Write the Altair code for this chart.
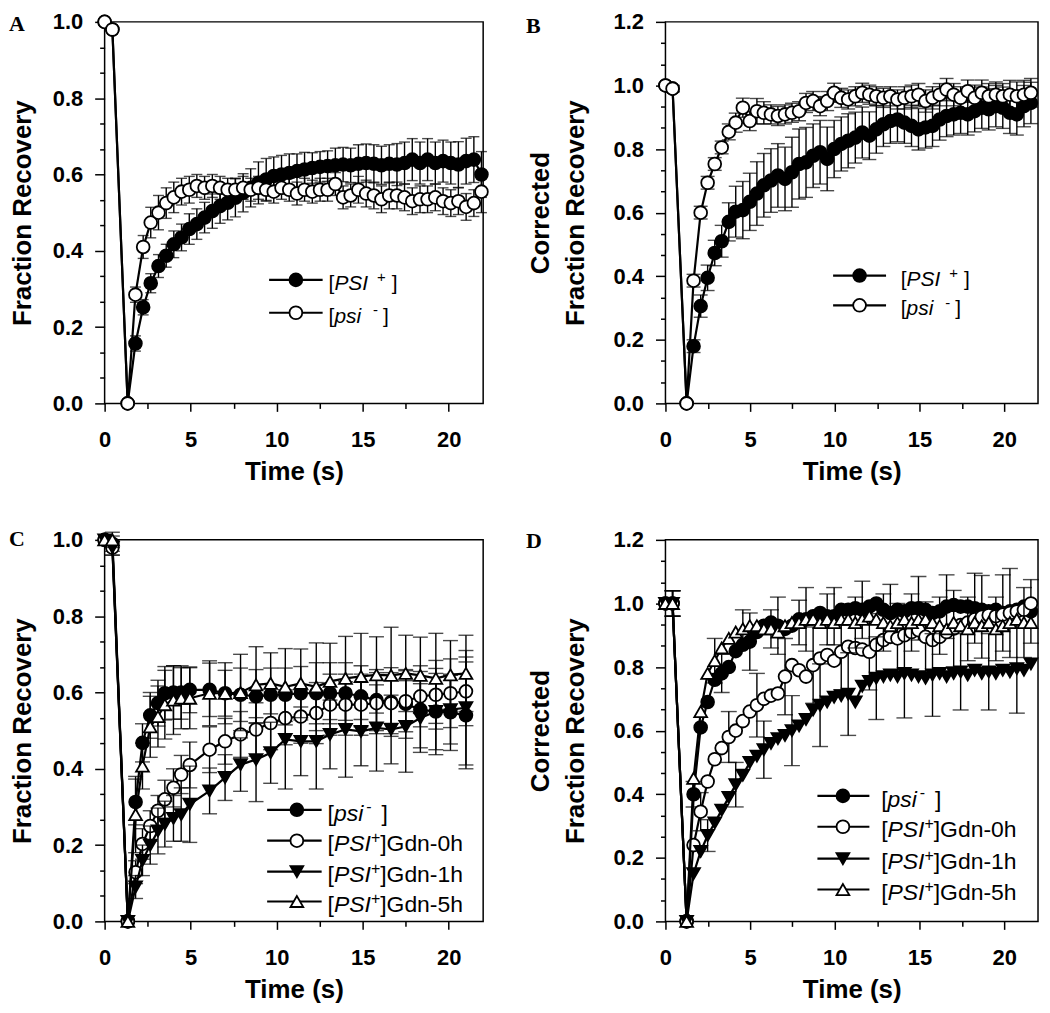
import altair as alt
import pandas as pd

# ---------------- Panel A ----------------
tA = [0, 0.45, 1.34, 1.79, 2.24, 2.68, 3.13, 3.58, 4.02, 4.47, 4.92, 5.36, 5.81, 6.26, 6.71, 7.15,
      7.60, 8.05, 8.49, 8.94, 9.39, 9.83, 10.28, 10.73, 11.18, 11.62, 12.07, 12.52, 12.96, 13.41,
      13.86, 14.30, 14.75, 15.20, 15.65, 16.09, 16.54, 16.99, 17.43, 17.88, 18.33, 18.77, 19.22,
      19.67, 20.12, 20.56, 21.01, 21.46, 21.90]
A_PSIp = [1.0, 0.98, 0.0, 0.157, 0.252, 0.315, 0.36, 0.387, 0.417, 0.435, 0.457, 0.47, 0.487, 0.504,
          0.517, 0.526, 0.539, 0.552, 0.565, 0.578, 0.587, 0.596, 0.600, 0.604, 0.609, 0.613, 0.617,
          0.62, 0.622, 0.624, 0.626, 0.624, 0.628, 0.63, 0.628, 0.624, 0.628, 0.626, 0.63, 0.639,
          0.63, 0.639, 0.63, 0.635, 0.63, 0.626, 0.635, 0.639, 0.60]
A_PSIp_err = [0, 0.01, 0,
              0.02, 0.02, 0.025, 0.03, 0.03, 0.035, 0.035, 0.04, 0.04, 0.04,
              0.045, 0.045, 0.045, 0.05, 0.05, 0.05, 0.055, 0.055, 0.05, 0.05,
              0.05, 0.045, 0.045, 0.04, 0.04, 0.04, 0.045, 0.045, 0.045, 0.05,
              0.05, 0.05, 0.05, 0.05, 0.055, 0.055, 0.055, 0.055, 0.055, 0.055,
              0.055, 0.055, 0.06, 0.06, 0.06, 0.06]
A_psim = [1.0, 0.98, 0.0, 0.285, 0.41, 0.474, 0.50, 0.525, 0.54, 0.555, 0.56, 0.57, 0.565, 0.57,
          0.565, 0.56, 0.56, 0.565, 0.56, 0.565, 0.56, 0.555, 0.565, 0.56, 0.55, 0.56, 0.555, 0.56,
          0.56, 0.575, 0.54, 0.545, 0.56, 0.55, 0.545, 0.535, 0.545, 0.545, 0.54, 0.53, 0.535,
          0.535, 0.54, 0.53, 0.525, 0.53, 0.515, 0.525, 0.555]
A_psim_err = [0, 0.01, 0,
              0.02, 0.03, 0.04, 0.045, 0.04, 0.04, 0.035, 0.035, 0.03, 0.03,
              0.03, 0.03, 0.03, 0.03, 0.03, 0.03, 0.03, 0.03, 0.03, 0.03,
              0.03, 0.03, 0.03, 0.03, 0.03, 0.03, 0.03, 0.03, 0.03, 0.035,
              0.035, 0.035, 0.035, 0.035, 0.035, 0.035, 0.035, 0.035, 0.035, 0.035,
              0.035, 0.035, 0.035, 0.035, 0.035, 0.055]

# ---------------- Panel B ----------------
tB = [0, 0.42, 1.25, 1.66, 2.08, 2.49, 2.91, 3.32, 3.74, 4.15, 4.57, 4.98, 5.40, 5.81, 6.23, 6.64,
      7.06, 7.47, 7.89, 8.30, 8.72, 9.13, 9.55, 9.96, 10.38, 10.79, 11.21, 11.62, 12.04, 12.45,
      12.87, 13.28, 13.70, 14.11, 14.53, 14.94, 15.36, 15.77, 16.19, 16.60, 17.02, 17.43, 17.85,
      18.26, 18.68, 19.09, 19.51, 19.92, 20.34, 20.75, 21.17, 21.58]
B_PSIp = [1.0, 0.99, 0.0, 0.18, 0.306, 0.395, 0.473, 0.51, 0.571, 0.603, 0.608, 0.634, 0.66, 0.686,
          0.701, 0.717, 0.706, 0.727, 0.753, 0.758, 0.779, 0.79, 0.769, 0.8, 0.816, 0.826, 0.836,
          0.852, 0.842, 0.862, 0.878, 0.888, 0.893, 0.883, 0.873, 0.862, 0.868, 0.873, 0.893,
          0.904, 0.909, 0.914, 0.909, 0.919, 0.93, 0.925, 0.935, 0.93, 0.914, 0.909, 0.935, 0.945]
B_PSIp_err = [0, 0.01, 0,
              0.02, 0.035, 0.04, 0.04, 0.05, 0.06, 0.08, 0.09, 0.09, 0.1,
              0.1, 0.1, 0.1, 0.1, 0.11, 0.11, 0.11, 0.1, 0.1, 0.1,
              0.09, 0.085, 0.085, 0.08, 0.08, 0.075, 0.075, 0.07, 0.07, 0.07,
              0.065, 0.065, 0.065, 0.065, 0.065, 0.065, 0.065, 0.065, 0.065, 0.065,
              0.065, 0.065, 0.065, 0.065, 0.065, 0.065, 0.065, 0.065, 0.065]
B_psim = [1.0, 0.99, 0.0, 0.386, 0.6, 0.694, 0.753, 0.805, 0.854, 0.883, 0.93, 0.888, 0.919,
          0.914, 0.909, 0.904, 0.909, 0.914, 0.919, 0.945, 0.951, 0.935, 0.951,
          0.977, 0.961, 0.956, 0.966, 0.977, 0.971, 0.966, 0.961, 0.966, 0.956,
          0.961, 0.966, 0.971, 0.951, 0.961, 0.971, 0.987, 0.971, 0.961, 0.982,
          0.961, 0.977, 0.966, 0.971, 0.966, 0.971, 0.966, 0.971, 0.977]
B_psim_err = [0, 0.01, 0,
              0.02, 0.02, 0.02, 0.02, 0.02, 0.025, 0.03, 0.03, 0.03, 0.04,
              0.035, 0.03, 0.03, 0.03, 0.03, 0.03, 0.03, 0.03, 0.03, 0.03,
              0.03, 0.03, 0.03, 0.03, 0.03, 0.03, 0.03, 0.03, 0.03, 0.03,
              0.035, 0.035, 0.035, 0.035, 0.035, 0.035, 0.035, 0.035, 0.035, 0.035,
              0.04, 0.04, 0.04, 0.04, 0.04, 0.045, 0.045, 0.045, 0.045]

# ---------------- Panel C ----------------
tC = [0, 0.45, 1.35, 1.8, 2.2, 2.65, 3.1, 3.5, 4.0, 4.45, 4.95, 6.1, 7.0, 7.9, 8.8, 9.65, 10.5,
      11.4, 12.3, 13.1, 14.0, 14.9, 15.8, 16.65, 17.5, 18.35, 19.25, 20.1, 21.0]
C_psim = [1.0, 0.99, 0.0, 0.313, 0.468, 0.54, 0.572, 0.598, 0.6, 0.6, 0.607, 0.607, 0.598, 0.594,
          0.59, 0.594, 0.594, 0.598, 0.598, 0.598, 0.598, 0.59, 0.58, 0.575, 0.57, 0.555, 0.55,
          0.548, 0.54]
C_psim_err = [0, 0.02, 0, 0.06, 0.05, 0.06, 0.06, 0.07, 0.07, 0.07, 0.06, 0.07, 0.06, 0.07, 0.07,
              0.07, 0.07, 0.07, 0.08, 0.08, 0.08, 0.08, 0.08, 0.09, 0.09, 0.10, 0.10, 0.10, 0.14]
C_g0 = [1.0, 0.98, 0.0, 0.129, 0.203, 0.25, 0.29, 0.32, 0.35, 0.385, 0.41, 0.45, 0.472, 0.49, 0.503,
        0.52, 0.533, 0.537, 0.546, 0.568, 0.568, 0.568, 0.572, 0.572, 0.577, 0.59, 0.594, 0.598,
        0.603]
C_g0_err = [0, 0.02, 0, 0.03, 0.04, 0.04, 0.04, 0.05, 0.05, 0.05, 0.06, 0.06, 0.06, 0.06, 0.07,
            0.07, 0.07, 0.07, 0.08, 0.08, 0.08, 0.08, 0.08, 0.08, 0.08, 0.08, 0.09, 0.09, 0.09]
C_g1 = [1.0, 0.98, 0.0, 0.09, 0.16, 0.2, 0.237, 0.255, 0.27, 0.28, 0.307, 0.342, 0.377, 0.411,
        0.424, 0.442, 0.477, 0.472, 0.472, 0.49, 0.503, 0.498, 0.507, 0.503, 0.511, 0.533, 0.55,
        0.555, 0.56]
C_g1_err = [0, 0.02, 0, 0.03, 0.04, 0.05, 0.06, 0.06, 0.06, 0.07, 0.10, 0.06, 0.06, 0.07, 0.11,
            0.08, 0.13, 0.09, 0.125, 0.09, 0.125, 0.09, 0.113, 0.09, 0.12, 0.09, 0.113, 0.09, 0.15]
C_g5 = [1.0, 1.0, 0.0, 0.28, 0.407, 0.51, 0.537, 0.568, 0.58, 0.585, 0.585, 0.598, 0.598, 0.6,
        0.62, 0.624, 0.615, 0.624, 0.615, 0.629, 0.637, 0.642, 0.646, 0.645, 0.65, 0.645, 0.637,
        0.646, 0.65]
C_g5_err = [0, 0.02, 0, 0.1, 0.06, 0.08, 0.08, 0.09, 0.09, 0.08, 0.08, 0.085, 0.08, 0.1, 0.1,
            0.08, 0.1, 0.09, 0.115, 0.1, 0.11, 0.113, 0.1, 0.126, 0.1, 0.1, 0.118, 0.09, 0.1]

# ---------------- Panel D ----------------
tD = list(tB)
D_psim = [1.0, 1.0, 0.0, 0.40, 0.61, 0.69, 0.76, 0.78, 0.80, 0.85, 0.87, 0.88, 0.91,
          0.93, 0.94, 0.93, 0.92, 0.93, 0.95, 0.95, 0.96, 0.97, 0.96,
          0.96, 0.98, 0.98, 0.985, 0.98, 0.99, 1.0, 0.98, 0.97, 0.98,
          0.975, 0.985, 0.985, 0.98, 0.97, 0.975, 0.99, 0.995, 0.99, 0.99,
          0.985, 0.98, 0.975, 0.98, 0.97, 0.975, 0.98, 0.99, 0.975]
D_psim_err = [0, 0.04, 0,
              0.04, 0.08, 0.05, 0.06, 0.06, 0.07, 0.08, 0.08, 0.09, 0.10,
              0.10, 0.10, 0.09, 0.09, 0.09, 0.10, 0.10, 0.09, 0.09, 0.09,
              0.09, 0.09, 0.09, 0.09, 0.09, 0.09, 0.09, 0.09, 0.09, 0.09,
              0.10, 0.10, 0.10, 0.10, 0.10, 0.10, 0.10, 0.10, 0.10, 0.11,
              0.11, 0.11, 0.12, 0.12, 0.12, 0.13, 0.13, 0.12, 0.10]
D_g0 = [1.0, 1.0, 0.0, 0.24, 0.345, 0.44, 0.51, 0.545, 0.58, 0.60, 0.63, 0.66, 0.68,
        0.70, 0.71, 0.717, 0.77, 0.806, 0.79, 0.77, 0.806, 0.827, 0.838,
        0.82, 0.848, 0.864, 0.86, 0.855, 0.848, 0.87, 0.885, 0.895, 0.89,
        0.90, 0.91, 0.916, 0.895, 0.885, 0.895, 0.91, 0.921, 0.932, 0.94,
        0.95, 0.958, 0.963, 0.96, 0.965, 0.97, 0.975, 0.98, 1.0]
D_g0_err = [0, 0.04, 0,
            0.04, 0.06, 0.06, 0.07, 0.08, 0.08, 0.08, 0.09, 0.09, 0.10,
            0.10, 0.11, 0.11, 0.12, 0.12, 0.12, 0.13, 0.12, 0.12, 0.12,
            0.12, 0.12, 0.12, 0.12, 0.12, 0.12, 0.12, 0.11, 0.11, 0.11,
            0.11, 0.11, 0.11, 0.11, 0.12, 0.12, 0.12, 0.12, 0.12, 0.12,
            0.12, 0.13, 0.13, 0.13, 0.14, 0.14, 0.14, 0.13, 0.10]
D_g1 = [1.0, 1.0, 0.0, 0.15, 0.22, 0.27, 0.31, 0.35, 0.39, 0.43, 0.46, 0.50, 0.52,
        0.54, 0.56, 0.575, 0.585, 0.60, 0.615, 0.635, 0.665, 0.68, 0.69,
        0.705, 0.71, 0.715, 0.69, 0.74, 0.755, 0.765, 0.77, 0.775, 0.77,
        0.78, 0.775, 0.77, 0.765, 0.775, 0.78, 0.77, 0.78, 0.785, 0.775,
        0.79, 0.78, 0.785, 0.78, 0.79, 0.785, 0.795, 0.79, 0.81]
D_g1_err = [0, 0.04, 0,
            0.05, 0.05, 0.05, 0.06, 0.06, 0.07, 0.07, 0.08, 0.08, 0.09,
            0.09, 0.10, 0.10, 0.10, 0.11, 0.11, 0.12, 0.12, 0.13, 0.13,
            0.13, 0.13, 0.13, 0.13, 0.13, 0.13, 0.13, 0.13, 0.14, 0.14,
            0.14, 0.14, 0.13, 0.13, 0.13, 0.13, 0.12, 0.12, 0.12, 0.12,
            0.12, 0.12, 0.12, 0.12, 0.13, 0.13, 0.14, 0.14, 0.14]
D_g5 = [1.0, 1.0, 0.0, 0.45, 0.66, 0.78, 0.82, 0.86, 0.89, 0.91, 0.92, 0.93, 0.93,
        0.92, 0.92, 0.91, 0.93, 0.94, 0.94, 0.95, 0.95, 0.94, 0.95,
        0.94, 0.95, 0.95, 0.94, 0.95, 0.96, 0.95, 0.94, 0.93, 0.94,
        0.95, 0.94, 0.95, 0.95, 0.94, 0.93, 0.92, 0.94, 0.93, 0.92,
        0.94, 0.93, 0.94, 0.92, 0.93, 0.94, 0.95, 0.94, 0.94]
D_g5_err = [0, 0.04, 0,
            0.06, 0.07, 0.07, 0.07, 0.07, 0.07, 0.06, 0.06, 0.06, 0.06,
            0.06, 0.06, 0.07, 0.07, 0.07, 0.07, 0.08, 0.08, 0.08, 0.08,
            0.08, 0.08, 0.08, 0.08, 0.09, 0.09, 0.09, 0.09, 0.09, 0.09,
            0.09, 0.09, 0.09, 0.09, 0.09, 0.09, 0.10, 0.10, 0.10, 0.10,
            0.10, 0.10, 0.10, 0.10, 0.11, 0.11, 0.11, 0.11, 0.11]

# ---------------- styling ----------------
FONT = "Liberation Sans"
MS = 165
KIND = {"fc": ("circle", "black"), "oc": ("circle", "white"),
        "fdt": ("triangle-down", "black"), "out": ("triangle-up", "white")}
W = {"[": 0.278, "]": 0.278, "P": 0.667, "S": 0.667, "I": 0.278, "p": 0.556, "s": 0.5,
     "i": 0.222, "G": 0.778, "d": 0.556, "n": 0.556, "-": 0.333, "0": 0.556, "1": 0.556,
     "5": 0.556, "h": 0.556, "+": 0.584, " ": 0.278}
ONE = pd.DataFrame({"k": [0]})

LEG_PSIP_AB = [("[", "n"), ("PSI", "i"), (9, "gap"), ("+", "sup"), (6, "gap"), ("]", "n")]
LEG_PSIM_AB = [("[", "n"), ("psi", "i"), (12, "gap"), ("-", "sup"), (5, "gap"), ("]", "n")]
LEG_PSIM_CD = [("[", "n"), ("psi", "i"), (3, "gap"), ("-", "sup"), (10, "gap"), ("]", "n")]


def leg_gdn(h):
    return [("[", "n"), ("PSI", "i"), ("+", "sup"), ("]Gdn-" + h, "n")]


def panel(times, series, ymax, ytitle, ytp, letter, lxy, leg, w, h, wref, href,
          cap=12, step=1):
    xs = alt.Scale(domain=[0, 22], nice=False, zero=False)
    ys = alt.Scale(domain=[0, ymax], nice=False, zero=False)
    yvals = [round(k / 15, 5) for k in range(int(round(ymax * 15)) + 1)]
    ytest = "abs(datum.value * 5 - round(datum.value * 5)) < 0.01"
    yax = alt.Axis(title=ytitle, values=yvals, format=".1f",
                   labelExpr=ytest + " ? datum.label : ''",
                   tickSize={"condition": {"test": ytest, "value": 10}, "value": 5},
                   labelPadding=12, titlePadding=ytp, titleLineHeight=35,
                   labelOverlap=False, labelFlush=False)
    xtest = "datum.value % 5 === 0"
    xax = alt.Axis(title="Time (s)", values=[0, 2.5, 5, 7.5, 10, 12.5, 15, 17.5, 20], format="d",
                   labelExpr=xtest + " ? datum.label : ''",
                   tickSize={"condition": {"test": xtest, "value": 8}, "value": 5},
                   labelPadding=18, titlePadding=8, labelOverlap=False, labelFlush=False)
    X = alt.X("t:Q", scale=xs, axis=xax)

    def Y(f):
        return alt.Y(f + ":Q", scale=ys, axis=yax)

    layers = []
    for vals, errs, kind, off in series:
        assert len(vals) == len(times) == len(errs), (letter, kind, len(vals), len(times), len(errs))
        df = pd.DataFrame({"t": times, "v": vals, "e": errs})
        df["lo"] = df["v"] - df["e"]
        df["hi"] = df["v"] + df["e"]
        df["i"] = range(len(df))
        # error bars drawn on every `step`-th point (as in the source figure)
        keep = (df["e"] > 0) & ((df["i"] <= 1) | ((df["i"] - off) % step == 0))
        dfe = df[keep]
        shape, fill = KIND[kind]
        layers += [
            alt.Chart(dfe).mark_rule(color="black", strokeWidth=1.4).encode(x=X, y=Y("lo"), y2="hi:Q"),
            alt.Chart(dfe).mark_tick(orient="horizontal", color="black", size=cap, thickness=1.4)
            .encode(x=X, y=Y("lo")),
            alt.Chart(dfe).mark_tick(orient="horizontal", color="black", size=cap, thickness=1.4)
            .encode(x=X, y=Y("hi")),
            alt.Chart(df).mark_line(color="black", strokeWidth=2.2).encode(x=X, y=Y("v")),
            alt.Chart(df).mark_point(shape=shape, filled=True, fill=fill, stroke="black",
                                     strokeWidth=1.8, size=MS, opacity=1).encode(x=X, y=Y("v")),
        ]

    # legend drawn inside the plot area
    sx, sy = w / wref, h / href
    fs = leg["fs"]
    for row_y, (kind, segs) in zip(leg["rows"], leg["entries"]):
        y = row_y * sy
        shape, fill = KIND[kind]
        layers.append(alt.Chart(ONE).mark_rule(color="black", strokeWidth=2.2).encode(
            x=alt.value(leg["x0"] * sx), x2=alt.value(leg["x1"] * sx), y=alt.value(y)))
        layers.append(alt.Chart(ONE).mark_point(shape=shape, filled=True, fill=fill, stroke="black",
                                                strokeWidth=1.8, size=MS, opacity=1).encode(
            x=alt.value(leg["xm"] * sx), y=alt.value(y)))
        x = leg["xt"] * sx
        base = y + 2.5 + 0.358 * fs
        for txt, st in segs:
            if st == "gap":
                x += txt
                continue
            if st == "sup":
                f = round(fs * 0.7)
                yy = base - 0.36 * fs
                style = "normal"
            else:
                f = fs
                yy = base
                style = "italic" if st == "i" else "normal"
            layers.append(alt.Chart(ONE).mark_text(text=txt, font=FONT, fontSize=f, fontStyle=style,
                                                   align="left", baseline="alphabetic", color="black")
                          .encode(x=alt.value(x), y=alt.value(yy)))
            x += sum(W[c] for c in txt) * f

    layers.append(alt.Chart(ONE).mark_text(text=letter, font="Liberation Serif", fontWeight="bold",
                                           fontSize=22, align="left", baseline="top", color="black")
                  .encode(x=alt.value(lxy[0]), y=alt.value(lxy[1])))
    return alt.layer(*layers).properties(width=w, height=h)


H = 383
WL, WR = 380, 374
pA = panel(tA, [(A_PSIp, A_PSIp_err, "fc", 0), (A_psim, A_psim_err, "oc", 0)], 1.0,
           "Fraction Recovery", 17, "A", (-96, -8),
           {"fs": 21, "rows": [259, 292], "x0": 166, "x1": 220, "xm": 193, "xt": 226,
            "entries": [("fc", LEG_PSIP_AB), ("oc", LEG_PSIM_AB)]},
           WL, H, 382, 383, cap=11)
pB = panel(tB, [(B_PSIp, B_PSIp_err, "fc", 0), (B_psim, B_psim_err, "oc", 0)], 1.2,
           ["Corrected", "Fraction Recovery"], 25, "B", (-140, -6),
           {"fs": 21, "rows": [256, 286], "x0": 171, "x1": 225, "xm": 198, "xt": 240,
            "entries": [("fc", LEG_PSIP_AB), ("oc", LEG_PSIM_AB)]},
           WR, H, 380, 385, cap=14)
pC = panel(tC, [(C_psim, C_psim_err, "fc", 0), (C_g0, C_g0_err, "oc", 0), (C_g1, C_g1_err, "fdt", 0),
                (C_g5, C_g5_err, "out", 0)], 1.0,
           "Fraction Recovery", 17, "C", (-96, -11),
           {"fs": 23, "rows": [271, 302, 333, 363], "x0": 164, "x1": 219, "xm": 194, "xt": 225,
            "entries": [("fc", LEG_PSIM_CD), ("oc", leg_gdn("0h")), ("fdt", leg_gdn("1h")),
                        ("out", leg_gdn("5h"))]},
           WL, H, 382, 383, cap=15)
pD = panel(tD, [(D_psim, D_psim_err, "fc", 3), (D_g0, D_g0_err, "oc", 0), (D_g1, D_g1_err, "fdt", 1),
                (D_g5, D_g5_err, "out", 2)], 1.2,
           ["Corrected", "Fraction Recovery"], 25, "D", (-140, -9),
           {"fs": 23, "rows": [257, 288, 320, 351], "x0": 155, "x1": 208, "xm": 181, "xt": 220,
            "entries": [("fc", LEG_PSIM_CD), ("oc", leg_gdn("0h")), ("fdt", leg_gdn("1h")),
                        ("out", leg_gdn("5h"))]},
           WR, H, 380, 383, cap=16, step=4)

chart = (alt.concat(pA, pB, pC, pD, columns=2, spacing={"row": 137, "column": 183}, bounds="flush")
         .properties(padding=0, background="white")
         .configure_view(stroke="black", strokeWidth=1.5)
         .configure_axis(labelFont=FONT, labelFontSize=22, labelFontWeight="bold", labelColor="black",
                         titleFont=FONT, titleFontSize=26, titleFontWeight="bold", titleColor="black",
                         tickColor="black", tickWidth=1.5, domain=False, grid=False))

chart.save("out.html", embed_options={"renderer": "svg", "actions": False})
